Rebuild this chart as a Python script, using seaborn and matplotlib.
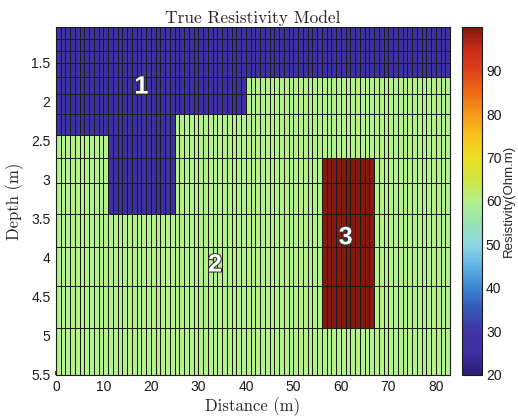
import numpy as np
import matplotlib
matplotlib.use("Agg")
import matplotlib.pyplot as plt
import matplotlib.patheffects as pe
import seaborn as sns

# ---- data ----
depth_edges = [1.05, 1.20, 1.35, 1.51, 1.69, 1.90, 2.16, 2.43, 2.73, 3.05, 3.44, 3.87, 4.37, 4.90, 5.50]
distance_edges = list(range(0, 84))          # 1 m wide cells, 0 .. 83 m

rho_background = 60      # body 2
rho_layer = 25           # body 1 (conductive cap)
rho_block = 100          # body 3 (resistive block)

# body 1 pieces: (first row, last row excl., x from, x to)
layer_pieces = [(0, 4, 0, 83), (4, 6, 0, 40), (6, 7, 0, 25), (7, 10, 11, 25)]
# body 3
block_piece = (8, 13, 56, 67)

body_labels = ["1", "2", "3"]
body_label_x = [18, 33.5, 61]
body_label_depth = [1.81, 4.09, 3.74]

x_ticks = [0, 10, 20, 30, 40, 50, 60, 70, 80]
y_ticks = [1.5, 2, 2.5, 3, 3.5, 4, 4.5, 5, 5.5]
y_tick_labels = ["1.5", "2", "2.5", "3", "3.5", "4", "4.5", "5", "5.5"]
cbar_ticks = [20, 30, 40, 50, 60, 70, 80, 90]
cbar_range = (20, 100)

# colour bar sampled every 5 Ohm.m from 20 to 100
cmap_colors = ["#2b1d78", "#3d30a2", "#4035a5", "#3558b5", "#3a86d2", "#62b3e6",
               "#8fd8e3", "#98e4b4", "#b4f08c", "#cfe53e", "#ebdf26", "#f8c31e",
               "#f59a18", "#ee6a14", "#e0401a", "#c92b16", "#86190e"]

# ---- build model grid ----
n_rows = len(depth_edges) - 1
n_cols = len(distance_edges) - 1
model = np.full((n_rows, n_cols), float(rho_background))
for r0, r1, x0, x1 in layer_pieces:
    model[r0:r1, x0:x1] = rho_layer
r0, r1, x0, x1 = block_piece
model[r0:r1, x0:x1] = rho_block

# ---- style ----
sns.set_theme(style="ticks")
plt.rcParams['font.family'] = ['Liberation Sans', 'DejaVu Sans']
cmap = sns.blend_palette(cmap_colors, n_colors=256, as_cmap=True)
serif = {'family': ['cmr10', 'DejaVu Serif']}

fig = plt.figure(figsize=(5.18, 4.19), dpi=100)
ax = fig.add_axes([0.108, 0.106, 0.761, 0.829])
cax = fig.add_axes([0.892, 0.106, 0.038, 0.829])

mesh = ax.pcolormesh(distance_edges, depth_edges, model, cmap=cmap,
                     vmin=cbar_range[0], vmax=cbar_range[1],
                     edgecolors='k', linewidth=0.6)
ax.set_xlim(distance_edges[0], distance_edges[-1])
ax.set_ylim(depth_edges[-1], depth_edges[0])

ax.set_xticks(x_ticks)
ax.set_yticks(y_ticks)
ax.set_yticklabels(y_tick_labels)
ax.tick_params(direction='in', length=3, labelsize=10, colors='k', pad=4)
for s in ax.spines.values():
    s.set_color('k')
    s.set_linewidth(0.8)

ax.set_title("True Resistivity Model", fontdict=serif, fontsize=12.5, pad=3)
ax.set_xlabel("Distance (m)", fontdict=serif, fontsize=12, labelpad=2)
ax.set_ylabel("Depth (m)", fontdict=serif, fontsize=12, labelpad=5)

for lab, lx, ly in zip(body_labels, body_label_x, body_label_depth):
    ax.text(lx, ly, lab, color='white', fontsize=18, fontweight='bold',
            ha='center', va='center',
            path_effects=[pe.withStroke(linewidth=1.5, foreground='#333333')])

cb = fig.colorbar(mesh, cax=cax, ticks=cbar_ticks)
cb.outline.set_edgecolor('k')
cb.outline.set_linewidth(0.8)
cax.tick_params(direction='in', length=3, labelsize=10, colors='k', pad=3)
cb.set_label("Resistivity(Ohm.m)", fontsize=9.5, labelpad=1)

fig.savefig("out.png", dpi=100)
